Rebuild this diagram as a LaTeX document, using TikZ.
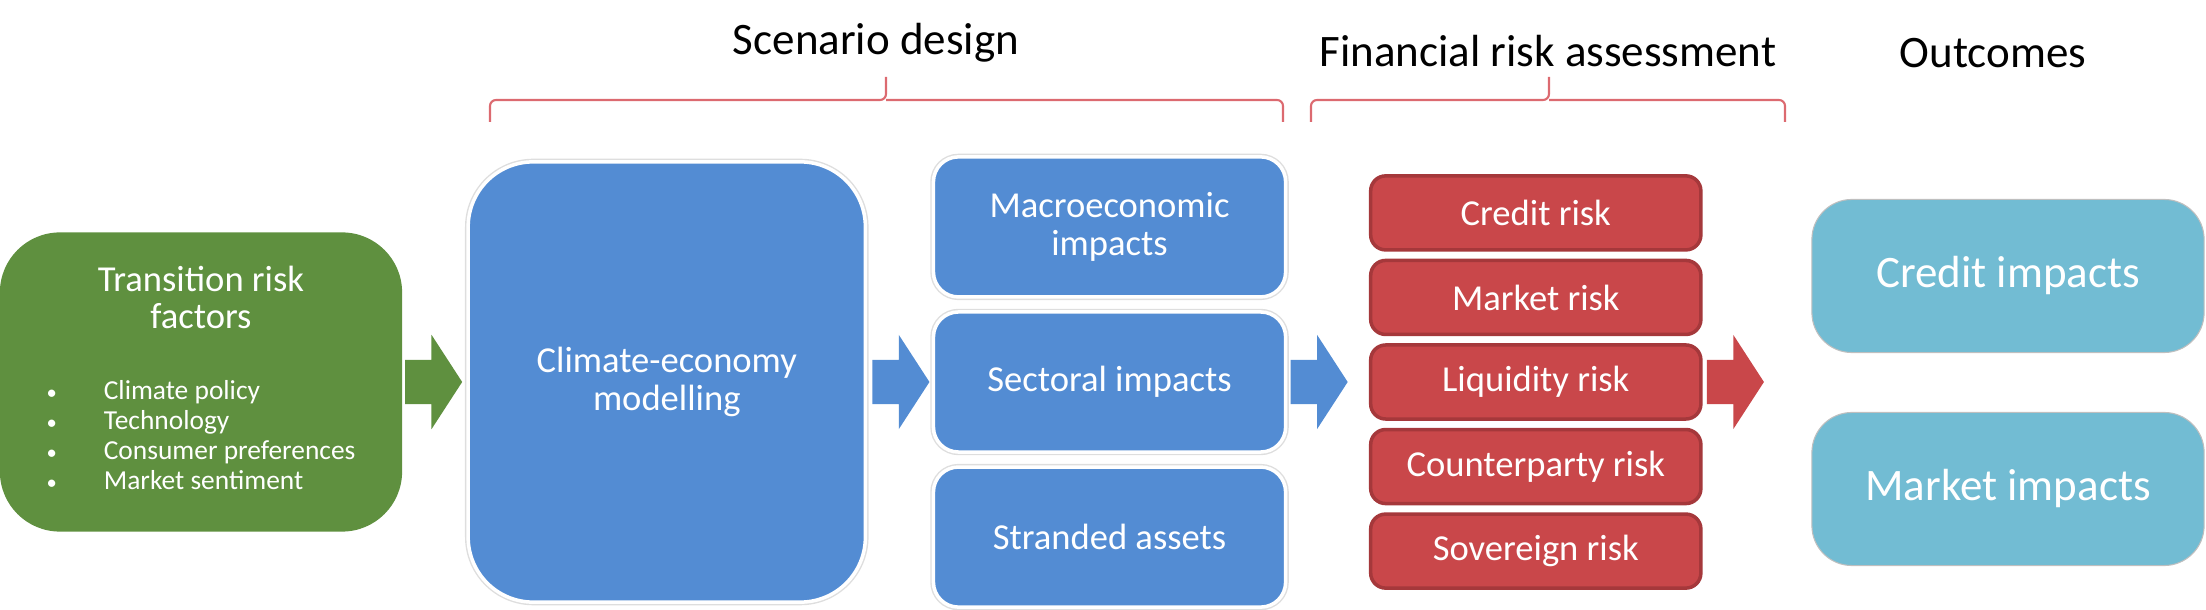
\documentclass[tikz,border=0pt]{standalone}
\usepackage{fontspec}
\setmainfont{Carlito}
\usetikzlibrary{positioning, shapes.arrows}

\definecolor{trgreen}{HTML}{5F903F}
\definecolor{scblue}{HTML}{538CD3}
\definecolor{fired}{HTML}{C9474A}
\definecolor{fiedge}{HTML}{A5383B}
\definecolor{outteal}{HTML}{72BCD3}
\definecolor{bracered}{HTML}{DC6A70}

\begin{document}
\begin{tikzpicture}[
    x=0.01cm, y=-0.01cm,
    boxbase/.style={rectangle, text=white, align=center, inner sep=0pt, outer sep=0pt, font=\fontsize{10.4}{10.6}\selectfont},
    greenbox/.style={boxbase, fill=trgreen, rounded corners=0.6cm, minimum width=4.02cm, minimum height=2.99cm},
    bluebox/.style={boxbase, fill=scblue, preaction={draw=black!13, line width=1.8pt}, draw=white, line width=1pt},
    bigbox/.style={bluebox, rounded corners=0.65cm, minimum width=3.97cm, minimum height=4.40cm},
    impactbox/.style={bluebox, rounded corners=0.25cm, minimum width=3.52cm, minimum height=1.40cm},
    riskbox/.style={boxbase, fill=fired, draw=fiedge, line width=1pt, rounded corners=0.15cm, minimum width=3.30cm, minimum height=0.74cm},
    outbox/.style={boxbase, fill=outteal, draw=black!25, line width=0.3pt, rounded corners=0.4cm, minimum width=3.92cm, minimum height=1.53cm, font=\fontsize{12.8}{14}\selectfont},
    header/.style={anchor=base, font=\fontsize{12.8}{14}\selectfont},
    blockarrow/.style={single arrow, inner xsep=0pt, inner ysep=0.215cm, outer sep=0pt, minimum height=0.57cm, single arrow head extend=0.25cm, single arrow tip angle=114},
    bracket/.style={draw=bracered, line width=0.6pt, rounded corners=0.06cm}
]
\useasboundingbox (0,0) rectangle (2206,610);

% Headers
\node[header] (scenario) at (876,55) {Scenario design};
\node[header] (financial) at (1548,67) {Financial risk assessment};
\node[header] (outcomes) at (1993,68) {Outcomes};

\draw[bracket] (490,122) -- (490,100) -- (886,100) -- (886,77);
\draw[bracket] (886,100) -- (1283,100) -- (1283,122);
\draw[bracket] (1311,122) -- (1311,100) -- (1549,100) -- (1549,77);
\draw[bracket] (1549,100) -- (1785,100) -- (1785,122);

% Risk factors and model
\node[greenbox] (factors) at (201,382) {Transition risk\\factors\\[0.34cm]
  {\fontsize{7.8}{8.5}\selectfont\begin{tabular}[t]{@{}l@{\hspace{0.47cm}}l@{}}
  \scalebox{0.75}{\textbullet} & Climate policy\\
  \scalebox{0.75}{\textbullet} & Technology\\
  \scalebox{0.75}{\textbullet} & Consumer preferences\\
  \scalebox{0.75}{\textbullet} & Market sentiment
  \end{tabular}}};
\node[bigbox, right=0.66cm of factors] (model) {Climate-economy\\modelling};

% Impacts
\node[impactbox, right=0.68cm of model] (sectoral) {Sectoral impacts};
\node[impactbox, above=0.15cm of sectoral] (macro) {Macroeconomic\\impacts};
\node[impactbox, below=0.15cm of sectoral] (stranded) {Stranded assets};

% Risks
\node[riskbox, right=0.85cm of sectoral] (liquidity) {Liquidity risk};
\node[riskbox, above=0.105cm of liquidity] (market) {Market risk};
\node[riskbox, above=0.105cm of market] (credit) {Credit risk};
\node[riskbox, below=0.105cm of liquidity] (counterparty) {Counterparty risk};
\node[riskbox, below=0.105cm of counterparty] (sovereign) {Sovereign risk};

% Outcomes
\node[outbox] (creditimp) at (2008,276) {Credit impacts};
\node[outbox] (marketimp) at (2008,489) {Market impacts};

% Block arrows
\node[blockarrow, fill=trgreen, right=0.03cm of factors] (arrowa) {};
\node[blockarrow, fill=scblue, right=0.07cm of model] (arrowb) {};
\node[blockarrow, fill=scblue, right=0.05cm of sectoral] (arrowc) {};
\node[blockarrow, fill=fired, right=0.06cm of liquidity] (arrowd) {};

\end{tikzpicture}
\end{document}
